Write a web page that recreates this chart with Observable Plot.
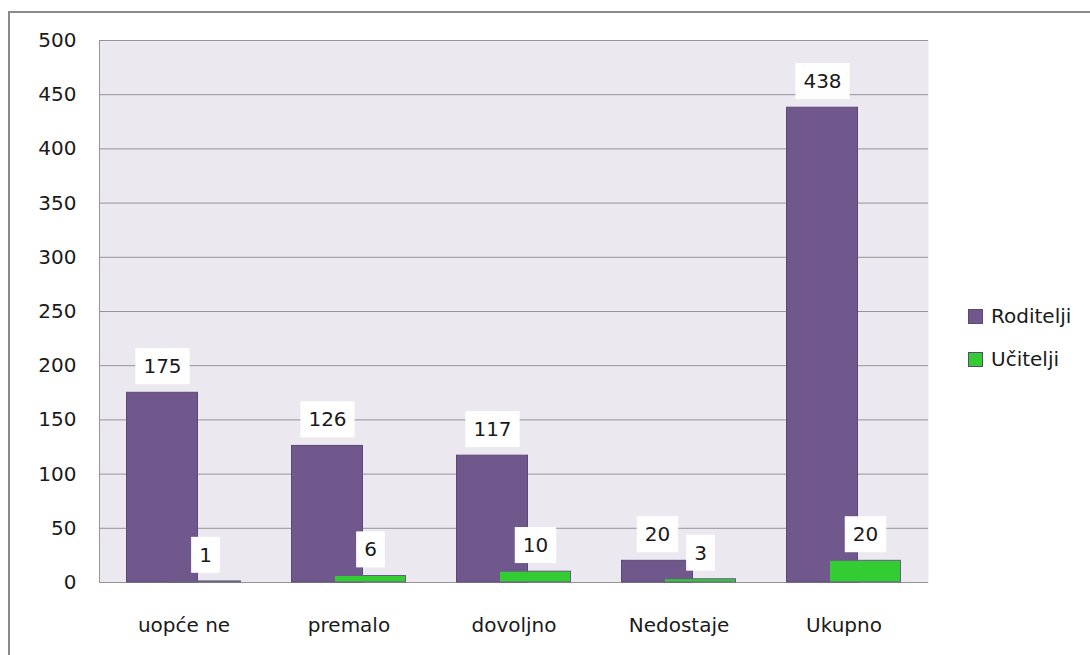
<!DOCTYPE html>
<html>
<head>
<meta charset="utf-8">
<script src="https://cdn.jsdelivr.net/npm/d3@7"></script>
<script src="https://cdn.jsdelivr.net/npm/@observablehq/plot@0.6"></script>
<style>
  html, body { margin: 0; padding: 0; background: #fff; overflow: hidden; }
  #wrap { position: relative; width: 1090px; height: 655px; font-family: "DejaVu Sans", sans-serif; }
  #outer { position: absolute; left: 8px; top: 11px; width: 1200px; height: 800px;
           border-left: 2px solid #8a8a8a; border-top: 2px solid #8a8a8a; pointer-events: none; }
  #chart { position: absolute; left: 0; top: 0; }
  .leg { position: absolute; left: 968px; display: flex; align-items: center; height: 28px;
         font-size: 20px; color: #1a1a1a; }
  .leg .sw { width: 13px; height: 13px; margin-right: 8px; border: 1px solid #5C4878; }
</style>
</head>
<body>
<div id="wrap">
  <div id="chart"></div>
  <div id="outer"></div>
  <div id="legend"></div>
</div>
<script>
const categories = ["uopće ne", "premalo", "dovoljno", "Nedostaje", "Ukupno"];
const roditelji = [175, 126, 117, 20, 438];
const ucitelji = [1, 6, 10, 3, 20];
const seriesNames = ["Roditelji", "Učitelji"];
const seriesColors = ["#70588C", "#33CC33"];
const yTicks = [0, 50, 100, 150, 200, 250, 300, 350, 400, 450, 500];

const data = [];
categories.forEach((c, i) => {
  data.push({category: c, series: seriesNames[0], value: roditelji[i]});
  data.push({category: c, series: seriesNames[1], value: ucitelji[i]});
});
const dRod = data.filter(d => d.series === seriesNames[0]);
const dUc = data.filter(d => d.series === seriesNames[1]);

const off = 21.5;
const plot = Plot.plot({
  width: 1090,
  height: 655,
  marginLeft: 99,
  marginRight: 162,
  marginTop: 40,
  marginBottom: 73,
  style: {fontFamily: "DejaVu Sans", fontSize: "20px", color: "#1a1a1a", background: "transparent"},
  x: {domain: categories, paddingInner: 0.572, paddingOuter: 0.286, label: null, tickSize: 0, tickPadding: 35},
  y: {domain: [0, 500], label: null, ticks: yTicks.length - 1, tickSize: 0, tickPadding: 23},
  marks: [
    Plot.frame({fill: "#EBE9EF"}),
    Plot.ruleY(yTicks, {stroke: "#959595", strokeOpacity: 1}),
    Plot.frame({anchor: "left", stroke: "#959595"}),
    Plot.barY(dRod, {x: "category", y: "value", fill: seriesColors[0], stroke: "#5C4878", dx: -off}),
    Plot.barY(dUc, {x: "category", y: "value", fill: seriesColors[1], stroke: "#6A5A8A", dx: off}),
    Plot.text(dRod, {x: "category", y: "value", text: d => String(d.value), dx: -off, dy: -26,
                     fontSize: 20, fill: "#1a1a1a"}),
    Plot.text(dUc, {x: "category", y: "value", text: d => String(d.value), dx: off, dy: -26,
                    fontSize: 20, fill: "#1a1a1a"})
  ]
});
document.getElementById("chart").appendChild(plot);

// white boxes behind value labels
plot.querySelectorAll('g[aria-label="text"] text').forEach(t => {
  const b = t.getBBox();
  const r = document.createElementNS("http://www.w3.org/2000/svg", "rect");
  const cy = b.y + b.height / 2;
  r.setAttribute("x", b.x - 8);
  r.setAttribute("y", cy - 18);
  r.setAttribute("width", b.width + 16);
  r.setAttribute("height", 36);
  r.setAttribute("fill", "#ffffff");
  r.setAttribute("stroke", "none");
  if (t.getAttribute("transform")) r.setAttribute("transform", t.getAttribute("transform"));
  t.parentNode.insertBefore(r, t);
});

// legend
const legend = document.getElementById("legend");
const legTops = [302, 345];
seriesNames.forEach((s, i) => {
  const el = document.createElement("div");
  el.className = "leg";
  el.style.top = legTops[i] + "px";
  el.innerHTML = `<span class="sw" style="background:${seriesColors[i]}"></span><span>${s}</span>`;
  legend.appendChild(el);
});
</script>
</body>
</html>
